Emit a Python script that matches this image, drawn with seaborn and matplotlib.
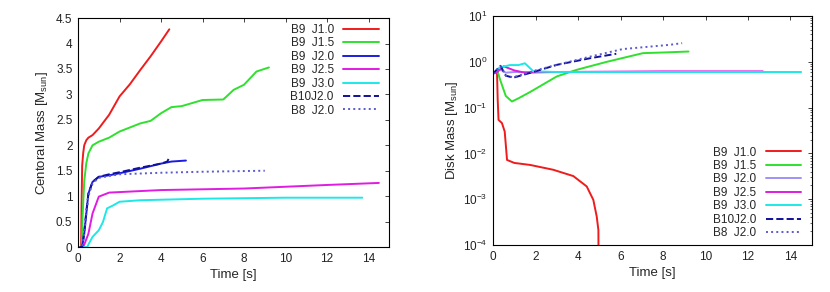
import matplotlib
matplotlib.use('Agg')
import matplotlib.pyplot as plt
import matplotlib.ticker as mticker
import numpy as np
import seaborn as sns

sns.set_style('white')
plt.rcParams['font.family'] = ['Liberation Sans', 'DejaVu Sans']
plt.rcParams['mathtext.fontset'] = 'custom'
plt.rcParams['mathtext.rm'] = 'Liberation Sans'

labels = ['B9  J1.0', 'B9  J1.5', 'B9  J2.0', 'B9  J2.5', 'B9  J3.0', 'B10J2.0', 'B8  J2.0']
colors_left = ['#ee1c1c', '#2fe02f', '#1c1ce0', '#e01ce0', '#1ce8e8', '#10109a', '#5a5ad0']
colors_right = ['#ee1c1c', '#2fe02f', '#a090f8', '#e01ce0', '#1ce8e8', '#10109a', '#5a5ad0']
dashes = ['-', '-', '-', '-', '-', '--', ':']

# central mass [Msun] vs time [s]
t_c = [
    [0.0, 0.15, 0.17, 0.2, 0.25, 0.3, 0.4, 0.5, 0.7, 1.0, 1.5, 2.0, 2.5, 3.0, 3.5, 4.0, 4.4],
    [0.0, 0.18, 0.22, 0.3, 0.4, 0.5, 0.7, 1.0, 1.5, 2.0, 2.5, 3.0, 3.5, 4.0, 4.5, 5.0, 6.0, 7.0, 7.5, 8.0, 8.3, 8.6, 9.2],
    [0.0, 0.2, 0.3, 0.4, 0.5, 0.7, 1.0, 1.5, 2.0, 3.0, 4.0, 4.5, 5.2],
    [0.0, 0.25, 0.35, 0.5, 0.7, 1.0, 1.5, 2.0, 4.0, 8.0, 12.0, 14.5],
    [0.0, 0.45, 0.5, 0.7, 1.0, 1.2, 1.4, 1.7, 2.0, 3.0, 6.0, 10.0, 13.7],
    [0.0, 0.2, 0.3, 0.4, 0.5, 0.7, 1.0, 1.5, 2.0, 3.0, 4.0, 4.3, 4.4],
    [0.0, 0.2, 0.3, 0.4, 0.5, 0.7, 1.0, 2.0, 4.0, 6.0, 9.0],
]
m_c = [
    [0.0, 0.0, 0.8, 1.6, 1.85, 2.0, 2.1, 2.15, 2.2, 2.33, 2.6, 2.96, 3.2, 3.48, 3.75, 4.04, 4.28],
    [0.0, 0.0, 0.6, 1.3, 1.65, 1.84, 2.0, 2.07, 2.15, 2.27, 2.35, 2.43, 2.48, 2.63, 2.75, 2.77, 2.89, 2.9, 3.09, 3.19, 3.32, 3.45, 3.53],
    [0.0, 0.0, 0.26, 0.66, 1.05, 1.28, 1.38, 1.41, 1.45, 1.54, 1.64, 1.68, 1.7],
    [0.0, 0.0, 0.1, 0.26, 0.66, 0.99, 1.07, 1.08, 1.12, 1.15, 1.22, 1.26],
    [0.0, 0.0, 0.05, 0.2, 0.33, 0.49, 0.76, 0.82, 0.89, 0.92, 0.95, 0.97, 0.97],
    [0.0, 0.0, 0.3, 0.7, 1.05, 1.28, 1.38, 1.43, 1.47, 1.56, 1.64, 1.68, 1.76],
    [0.0, 0.0, 0.26, 0.66, 1.0, 1.25, 1.36, 1.43, 1.46, 1.48, 1.5],
]

# disk mass [Msun] vs time [s]
t_d = [
    [0.0, 0.1, 0.19, 0.22, 0.26, 0.42, 0.55, 0.66, 1.0, 1.75, 2.83, 3.78, 4.41, 4.72, 4.88, 4.96, 4.97],
    [0.0, 0.1, 0.2, 0.34, 0.6, 0.89, 1.2, 1.75, 3.0, 3.94, 5.35, 7.06, 8.0, 9.2],
    [0.0, 0.3, 0.6, 1.0, 2.0, 5.2],
    [0.0, 0.2, 0.5, 1.0, 1.5, 3.0, 8.0, 12.7],
    [0.0, 0.3, 0.8, 1.2, 1.5, 1.9, 3.0, 8.0, 14.5],
    [0.0, 0.35, 0.6, 0.95, 2.0, 3.0, 4.57, 5.8],
    [0.0, 0.35, 0.6, 0.95, 2.0, 3.0, 4.57, 6.1, 8.3, 8.9],
]
m_d = [
    [0.55, 0.6, 0.55, 0.15, 0.054, 0.046, 0.03, 0.0072, 0.0062, 0.0056, 0.0044, 0.0032, 0.0019, 0.00097, 0.00042, 0.00021, 1e-5],
    [0.55, 0.6, 0.65, 0.4, 0.18, 0.136, 0.16, 0.22, 0.48, 0.67, 1.0, 1.55, 1.6, 1.68],
    [0.55, 0.7, 0.58, 0.6, 0.6, 0.6],
    [0.55, 0.6, 0.8, 0.65, 0.58, 0.6, 0.62, 0.62],
    [0.55, 0.75, 0.85, 0.85, 0.93, 0.62, 0.6, 0.6, 0.6],
    [0.55, 0.82, 0.5, 0.45, 0.62, 0.86, 1.2, 1.5],
    [0.55, 0.8, 0.5, 0.46, 0.65, 0.86, 1.3, 1.9, 2.35, 2.56],
]

fig = plt.figure(figsize=(8.3, 2.92), dpi=100)
ax1 = fig.add_axes([0.094, 0.154, 0.375, 0.784])
ax2 = fig.add_axes([0.594, 0.161, 0.384, 0.784])

for i, lab in enumerate(labels):
    sns.lineplot(x=t_c[i], y=m_c[i], ax=ax1, color=colors_left[i], linestyle=dashes[i],
                 linewidth=1.4, label=lab, sort=False, estimator=None)
    sns.lineplot(x=t_d[i], y=m_d[i], ax=ax2, color=colors_right[i], linestyle=dashes[i],
                 linewidth=1.4, label=lab, sort=False, estimator=None)

fs = 8.5
ax1.set_xlim(0, 15)
ax1.set_ylim(0, 4.5)
ax1.xaxis.set_major_locator(mticker.MultipleLocator(2))
ax1.yaxis.set_major_locator(mticker.MultipleLocator(0.5))
ax1.yaxis.set_major_formatter(mticker.FormatStrFormatter('%g'))
ax1.set_ylabel('Centoral Mass [M$_{\\rm sun}$]', fontsize=9.5, labelpad=4)

ax2.set_xlim(0, 15)
ax2.set_yscale('log')
ax2.set_ylim(1e-4, 10)
ax2.xaxis.set_major_locator(mticker.MultipleLocator(2))
ax2.yaxis.set_major_locator(mticker.LogLocator(base=10, numticks=10))
ax2.yaxis.set_major_formatter(mticker.FuncFormatter(lambda v, p: '10$^{%d}$' % round(np.log10(v))))
ax2.set_ylabel('Disk Mass [M$_{\\rm sun}$]', fontsize=9.5, labelpad=2)

for ax in (ax1, ax2):
    ax.set_xlabel('Time [s]', fontsize=9.5, labelpad=3)
    ax.xaxis.set_major_formatter(mticker.FormatStrFormatter('%g'))
    ax.tick_params(direction='in', top=True, right=True, length=3, width=0.6,
                   labelsize=fs, colors='#222222', pad=4)
    ax.tick_params(which='minor', direction='in', right=True, length=1.5, width=0.5)
    for s in ax.spines.values():
        s.set_color('black')
        s.set_linewidth(0.8)

ax1.legend(loc='upper right', frameon=False, fontsize=fs, markerfirst=False,
           handlelength=3.0, handletextpad=0.8, labelspacing=0.12,
           borderaxespad=0.1, bbox_to_anchor=(0.985, 1.0))
ax2.legend(loc='lower right', frameon=False, fontsize=fs, markerfirst=False,
           handlelength=3.0, handletextpad=0.8, labelspacing=0.12,
           borderaxespad=0.1, bbox_to_anchor=(0.985, 0.0))

fig.savefig('out.png', dpi=100)
